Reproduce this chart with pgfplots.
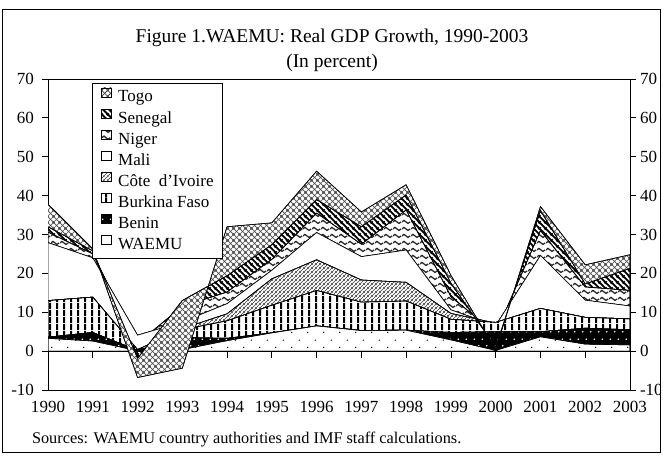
\documentclass[border=0pt]{standalone}
\usepackage{fontspec}
\setmainfont{Liberation Serif}
\usepackage{pgfplots}
\pgfplotsset{compat=1.18}
\usepackage{pgfplotstable}
\usetikzlibrary{patterns}

\newcommand\tickfont{\fontsize{17bp}{20bp}\selectfont}
\newcommand\titlefont{\fontsize{19.5bp}{24bp}\selectfont}
\newcommand\srcfont{\fontsize{16.3bp}{19bp}\selectfont}

% WAEMU: sparse dots
\pgfdeclarepatternformonly{waemudots}{\pgfpoint{0bp}{0bp}}{\pgfpoint{16bp}{15bp}}{\pgfpoint{16bp}{15bp}}{%
  \pgfpathcircle{\pgfpoint{4bp}{3.75bp}}{0.75bp}%
  \pgfpathcircle{\pgfpoint{12bp}{11.25bp}}{0.75bp}%
  \pgfusepath{fill}}
% Benin: dots (white on black)
\pgfdeclarepatternformonly{benindots}{\pgfpoint{0bp}{0bp}}{\pgfpoint{7.5bp}{13.4bp}}{\pgfpoint{7.5bp}{13.4bp}}{%
  \pgfpathcircle{\pgfpoint{1.9bp}{3.35bp}}{0.9bp}%
  \pgfpathcircle{\pgfpoint{5.6bp}{10.05bp}}{0.9bp}%
  \pgfusepath{fill}}
% Burkina: vertical stripes
\pgfdeclarepatternformonly{vstripes}{\pgfpoint{0bp}{0bp}}{\pgfpoint{7bp}{7bp}}{\pgfpoint{7bp}{7bp}}{%
  \pgfpathrectangle{\pgfpoint{0bp}{0bp}}{\pgfpoint{2.3bp}{7bp}}%
  \pgfusepath{fill}}
% Cote d'Ivoire: thin diagonal lines
\pgfdeclarepatternformonly{cilines}{\pgfpoint{0bp}{0bp}}{\pgfpoint{4bp}{4bp}}{\pgfpoint{4bp}{4bp}}{%
  \pgfsetlinewidth{0.7bp}%
  \pgfpathmoveto{\pgfpoint{-1bp}{-1bp}}\pgfpathlineto{\pgfpoint{5bp}{5bp}}%
  \pgfpathmoveto{\pgfpoint{-1bp}{3bp}}\pgfpathlineto{\pgfpoint{1bp}{5bp}}%
  \pgfpathmoveto{\pgfpoint{3bp}{-1bp}}\pgfpathlineto{\pgfpoint{5bp}{1bp}}%
  \pgfusepath{stroke}}
% Niger: waves
\pgfdeclarepatternformonly{nigerwaves}{\pgfpoint{0bp}{0bp}}{\pgfpoint{8.5bp}{7bp}}{\pgfpoint{8.5bp}{7bp}}{%
  \pgfsetlinewidth{1.4bp}%
  \pgfpathmoveto{\pgfpoint{-0.1bp}{3.5bp}}%
  \pgfpathsine{\pgfpoint{2.175bp}{1.7bp}}%
  \pgfpathcosine{\pgfpoint{2.125bp}{-1.7bp}}%
  \pgfpathsine{\pgfpoint{2.125bp}{-1.7bp}}%
  \pgfpathcosine{\pgfpoint{2.3bp}{1.7bp}}%
  \pgfusepath{stroke}}
% Senegal: wide downward diagonal
\pgfdeclarepatternformonly{senstripes}{\pgfpoint{0bp}{0bp}}{\pgfpoint{6bp}{6bp}}{\pgfpoint{6bp}{6bp}}{%
  \pgfsetlinewidth{2.1bp}%
  \pgfpathmoveto{\pgfpoint{-1bp}{7bp}}\pgfpathlineto{\pgfpoint{7bp}{-1bp}}%
  \pgfpathmoveto{\pgfpoint{-1bp}{1bp}}\pgfpathlineto{\pgfpoint{1bp}{-1bp}}%
  \pgfpathmoveto{\pgfpoint{5bp}{7bp}}\pgfpathlineto{\pgfpoint{7bp}{5bp}}%
  \pgfusepath{stroke}}
% Togo: dotted diamond crosshatch
\pgfdeclarepatternformonly{togohatch}{\pgfpoint{0bp}{0bp}}{\pgfpoint{6bp}{6bp}}{\pgfpoint{6bp}{6bp}}{%
  \pgfsetlinewidth{0.8bp}%
  \pgfpathmoveto{\pgfpoint{-1bp}{-1bp}}\pgfpathlineto{\pgfpoint{7bp}{7bp}}%
  \pgfpathmoveto{\pgfpoint{-1bp}{5bp}}\pgfpathlineto{\pgfpoint{1bp}{7bp}}%
  \pgfpathmoveto{\pgfpoint{5bp}{-1bp}}\pgfpathlineto{\pgfpoint{7bp}{1bp}}%
  \pgfpathmoveto{\pgfpoint{-1bp}{7bp}}\pgfpathlineto{\pgfpoint{7bp}{-1bp}}%
  \pgfpathmoveto{\pgfpoint{-1bp}{1bp}}\pgfpathlineto{\pgfpoint{1bp}{-1bp}}%
  \pgfpathmoveto{\pgfpoint{5bp}{7bp}}\pgfpathlineto{\pgfpoint{7bp}{5bp}}%
  \pgfusepath{stroke}}

\pgfplotstableread{
year zero waemu benin burkina civ mali niger senegal togo
1990 0 3.3 0.3 9.4 0.0 14.9 2.7 1.4 5.8
1991 0 2.6 2.2 9.1 0.0 10.1 1.0 0.8 0.5
1992 0 0.1 0.1 0.2 -0.1 3.8 -2.1 -3.9 -4.9
1993 0 0.4 3.1 2.0 0.3 1.7 4.0 1.5 -17.4
1994 0 2.7 0.6 4.5 1.8 2.6 3.0 4.2 12.6
1995 0 4.7 0.0 7.1 6.8 2.2 2.8 3.8 5.6
1996 0 6.5 0.0 9.1 7.9 7.0 5.0 3.5 7.3
1997 0 5.3 0.0 7.3 5.7 6.0 3.2 4.5 3.8
1998 0 5.4 0.0 7.5 4.8 8.3 10.3 3.9 2.6
1999 0 2.9 1.9 3.4 1.5 0.9 3.4 3.5 2.0
2000 0 0.2 4.8 2.4 -0.2 -0.6 -2.1 -3.5 -0.6
2001 0 3.7 1.3 6.0 0.0 13.6 6.4 5.2 1.0
2002 0 1.8 4.1 2.8 0.0 4.4 3.4 0.8 4.9
2003 0 1.6 3.9 2.8 0.0 3.3 4.0 5.7 3.5
}\gdp

% the same values, run forward (k=1: top of Togo) and back (k=0: top of Senegal)
\pgfplotstableread{
year k waemu benin burkina civ mali niger senegal togo
1990 1 3.3 0.3 9.4 0.0 14.9 2.7 1.4 5.8
1991 1 2.6 2.2 9.1 0.0 10.1 1.0 0.8 0.5
1992 1 0.1 0.1 0.2 -0.1 3.8 -2.1 -3.9 -4.9
1993 1 0.4 3.1 2.0 0.3 1.7 4.0 1.5 -17.4
1994 1 2.7 0.6 4.5 1.8 2.6 3.0 4.2 12.6
1995 1 4.7 0.0 7.1 6.8 2.2 2.8 3.8 5.6
1996 1 6.5 0.0 9.1 7.9 7.0 5.0 3.5 7.3
1997 1 5.3 0.0 7.3 5.7 6.0 3.2 4.5 3.8
1998 1 5.4 0.0 7.5 4.8 8.3 10.3 3.9 2.6
1999 1 2.9 1.9 3.4 1.5 0.9 3.4 3.5 2.0
2000 1 0.2 4.8 2.4 -0.2 -0.6 -2.1 -3.5 -0.6
2001 1 3.7 1.3 6.0 0.0 13.6 6.4 5.2 1.0
2002 1 1.8 4.1 2.8 0.0 4.4 3.4 0.8 4.9
2003 1 1.6 3.9 2.8 0.0 3.3 4.0 5.7 3.5
2003 0 1.6 3.9 2.8 0.0 3.3 4.0 5.7 3.5
2002 0 1.8 4.1 2.8 0.0 4.4 3.4 0.8 4.9
2001 0 3.7 1.3 6.0 0.0 13.6 6.4 5.2 1.0
2000 0 0.2 4.8 2.4 -0.2 -0.6 -2.1 -3.5 -0.6
1999 0 2.9 1.9 3.4 1.5 0.9 3.4 3.5 2.0
1998 0 5.4 0.0 7.5 4.8 8.3 10.3 3.9 2.6
1997 0 5.3 0.0 7.3 5.7 6.0 3.2 4.5 3.8
1996 0 6.5 0.0 9.1 7.9 7.0 5.0 3.5 7.3
1995 0 4.7 0.0 7.1 6.8 2.2 2.8 3.8 5.6
1994 0 2.7 0.6 4.5 1.8 2.6 3.0 4.2 12.6
1993 0 0.4 3.1 2.0 0.3 1.7 4.0 1.5 -17.4
1992 0 0.1 0.1 0.2 -0.1 3.8 -2.1 -3.9 -4.9
1991 0 2.6 2.2 9.1 0.0 10.1 1.0 0.8 0.5
1990 0 3.3 0.3 9.4 0.0 14.9 2.7 1.4 5.8
}\togopoly

\pgfplotsset{
  waemusty/.style={draw=black, line width=0.6bp, fill=white, postaction={pattern=waemudots}},
  beninsty/.style={draw=black, line width=0.6bp, fill=black, postaction={pattern=benindots, pattern color=white}},
  burkinasty/.style={draw=black, line width=0.6bp, fill=white, postaction={pattern=vstripes}},
  civsty/.style={draw=black, line width=0.6bp, fill=white, postaction={pattern=cilines, pattern color=black!80}},
  malisty/.style={draw=black, line width=0.6bp, fill=white},
  nigersty/.style={draw=black, line width=0.6bp, fill=white, postaction={pattern=nigerwaves, pattern color=black!85}},
  senegalsty/.style={draw=black, line width=0.6bp, fill=white, postaction={pattern=senstripes}},
  togosty/.style={draw=black, line width=0.6bp, fill=white, postaction={pattern=togohatch, pattern color=black!70}},
}

\begin{document}
\begin{tikzpicture}
\useasboundingbox (-48bp,-66bp) rectangle (615bp,390bp);
\begin{scope}
\clip (-45bp,-62bp) rectangle (612.5bp,380bp);
\begin{axis}[
  width=582bp, height=311bp, scale only axis,
  at={(0bp,0bp)}, anchor=south west,
  xmin=1990, xmax=2003, ymin=-10, ymax=70,
  xtick={1990,...,2003}, ytick={-10,0,...,70},
  xtick style={draw=none},
  ytick pos=left, yticklabel pos=left,
  tick align=outside, major tick length=6.5bp,
  tick style={line width=0.8bp, black},
  axis line style={line width=0.8bp},
  /pgf/number format/assume math mode=true,
  ticklabel style={font=\tickfont},
  y tick label style={xshift=-4bp},
  x tick label style={/pgf/number format/1000 sep={}, yshift=-1.5bp},
  stack plots=y,
]
\draw[line width=0.8bp] (axis cs:1990,0) -- (axis cs:2003,0);
\pgfplotsinvokeforeach{1990,...,2003}{\draw[line width=0.8bp] (axis cs:#1,0) -- ++(0bp,-6.5bp);}
\addplot[forget plot, draw=none] table[x=year,y=zero]{\gdp};
\addplot[waemusty] table[x=year,y=waemu]{\gdp} \closedcycle;
\addplot[beninsty] table[x=year,y=benin]{\gdp} \closedcycle;
\addplot[burkinasty] table[x=year,y=burkina]{\gdp} \closedcycle;
\addplot[civsty] table[x=year,y=civ]{\gdp} \closedcycle;
\addplot[malisty] table[x=year,y=mali]{\gdp} \closedcycle;
\addplot[nigersty] table[x=year,y=niger]{\gdp} \closedcycle;
\addplot[senegalsty] table[x=year,y=senegal]{\gdp} \closedcycle;
\end{axis}
\begin{axis}[
  width=582bp, height=311bp, scale only axis,
  at={(0bp,0bp)}, anchor=south west,
  xmin=1990, xmax=2003, ymin=-10, ymax=70,
  axis x line=none, axis y line*=right,
  ytick={-10,0,...,70},
  tick align=outside, major tick length=6.5bp,
  tick style={line width=0.8bp, black},
  axis line style={line width=0.8bp},
  /pgf/number format/assume math mode=true,
  ticklabel style={font=\tickfont},
]
\addplot[draw=none] coordinates {(1990,0)};
\end{axis}
% Togo on top (area between the Senegal and Togo cumulative lines), with the legend
\begin{axis}[
  width=582bp, height=311bp, scale only axis,
  at={(0bp,0bp)}, anchor=south west,
  xmin=1990, xmax=2003, ymin=-10, ymax=70,
  hide axis,
  legend style={at={(0.0751,0.988)}, anchor=north west, draw=black,
    line width=0.8bp, fill=white, font=\tickfont,
    inner xsep=9bp, inner ysep=4.5bp, row sep=2.8bp, column sep=6.5bp,
    nodes={inner sep=0pt, text height=12bp, text depth=4bp}},
  legend cell align=left,
  legend image code/.code={\draw[#1] (0bp,1bp) rectangle (10bp,10bp);},
]
\addplot[forget plot, togosty] table[x=year, y expr={\thisrow{waemu}+\thisrow{benin}+\thisrow{burkina}+\thisrow{civ}+\thisrow{mali}+\thisrow{niger}+\thisrow{senegal}+\thisrow{k}*\thisrow{togo}}]{\togopoly};
\addlegendimage{togosty}\addlegendentry{Togo}
\addlegendimage{senegalsty}\addlegendentry{Senegal}
\addlegendimage{nigersty}\addlegendentry{Niger}
\addlegendimage{malisty}\addlegendentry{Mali}
\addlegendimage{civsty}\addlegendentry{Côte~~d'Ivoire}
\addlegendimage{burkinasty}\addlegendentry{Burkina Faso}
\addlegendimage{beninsty}\addlegendentry{Benin}
\addlegendimage{waemusty}\addlegendentry{WAEMU}
\end{axis}
\end{scope}
\draw[line width=1bp] (-45bp,-62bp) rectangle (612.5bp,380bp);
\node[font=\titlefont, anchor=base] at (284bp,347bp) {Figure 1.WAEMU: Real GDP Growth, 1990-2003};
\node[font=\titlefont, anchor=base] at (284bp,322bp) {(In percent)};
\node[font=\srcfont, anchor=base west] at (-19.5bp,-53bp) {Sources: WAEMU country authorities and IMF staff calculations.};
\end{tikzpicture}
\end{document}
